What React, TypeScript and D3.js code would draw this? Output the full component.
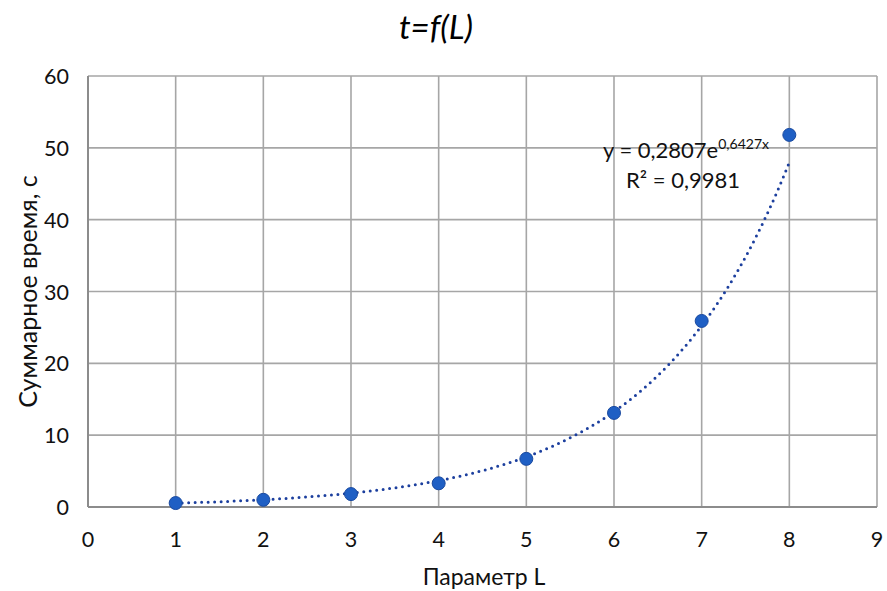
import React from 'react';
import { scaleLinear, line, range } from 'd3';

// measured values
const paramL = [1, 2, 3, 4, 5, 6, 7, 8];
const totalTime = [0.55, 1.0, 1.8, 3.3, 6.7, 13.1, 25.9, 51.8];
const xTicks = [0, 1, 2, 3, 4, 5, 6, 7, 8, 9];
const yTicks = [0, 10, 20, 30, 40, 50, 60];

// exponential trendline shown on the chart
const trendA = 0.2807;
const trendB = 0.6427;

const W = 887;
const H = 591;
const margin = { left: 88, right: 10, top: 76, bottom: 84 };
const font = 'Lato, "Open Sans", sans-serif';

const App = () => {
  const xScale = scaleLinear().domain([0, 9]).range([margin.left, W - margin.right]);
  const yScale = scaleLinear().domain([0, 60]).range([H - margin.bottom, margin.top]);

  const trendX = range(1, 8.001, 0.05);
  const trendPath = line<number>()
    .x(d => xScale(d))
    .y(d => yScale(trendA * Math.exp(trendB * d)))(trendX);

  return (
    <svg width={W} height={H} style={{ position: 'absolute', left: 0, top: 0, background: '#fff' }}>
      <text x={436} y={39} textAnchor="middle" fontFamily={font} fontStyle="italic" fontSize={33} fill="#000">
        t=f(L)
      </text>

      {/* grid */}
      {xTicks.map(t => (
        <line key={'gx' + t} x1={xScale(t)} x2={xScale(t)} y1={yScale(60)} y2={yScale(0)} stroke="#a6a6a6" strokeWidth={1.6} />
      ))}
      {yTicks.map(t => (
        <line key={'gy' + t} x1={xScale(0)} x2={xScale(9)} y1={yScale(t)} y2={yScale(t)} stroke="#a6a6a6" strokeWidth={1.6} />
      ))}
      <line x1={xScale(0)} x2={xScale(0)} y1={yScale(60)} y2={yScale(0)} stroke="#8c8c8c" strokeWidth={2} />
      <line x1={xScale(0)} x2={xScale(9)} y1={yScale(0)} y2={yScale(0)} stroke="#8c8c8c" strokeWidth={2} />

      {/* tick labels */}
      {xTicks.map(t => (
        <text key={'tx' + t} x={xScale(t)} y={547} textAnchor="middle" fontFamily={font} fontSize={21.5} fill="#111">
          {t}
        </text>
      ))}
      {yTicks.map(t => (
        <text key={'ty' + t} x={69} y={yScale(t) + 8} textAnchor="end" fontFamily={font} fontSize={21.5} fill="#111">
          {t}
        </text>
      ))}

      {/* axis titles */}
      <text x={484} y={585} textAnchor="middle" fontFamily={font} fontSize={23} fill="#111">
        Параметр L
      </text>
      <text transform={`translate(37, ${yScale(30)}) rotate(-90)`} textAnchor="middle" fontFamily={font} fontSize={25} fill="#111">
        Суммарное время, с
      </text>

      {/* trendline */}
      <path d={trendPath || ''} fill="none" stroke="#1c3f9e" strokeWidth={3} strokeDasharray="0 6.5" strokeLinecap="round" />

      {/* points */}
      {paramL.map((v, i) => (
        <circle key={'p' + i} cx={xScale(v)} cy={yScale(totalTime[i])} r={6.5} fill="#1f5fc4" stroke="#1a4aa0" strokeWidth={1} />
      ))}

      {/* equation */}
      <text x={603} y={158} fontFamily={font} fontSize={22} fill="#111">
        y = 0,2807e<tspan dy={-9} fontSize={14}>0,6427x</tspan>
      </text>
      <text x={626} y={188} fontFamily={font} fontSize={22} fill="#111">
        R² = 0,9981
      </text>
    </svg>
  );
};

export default App;
